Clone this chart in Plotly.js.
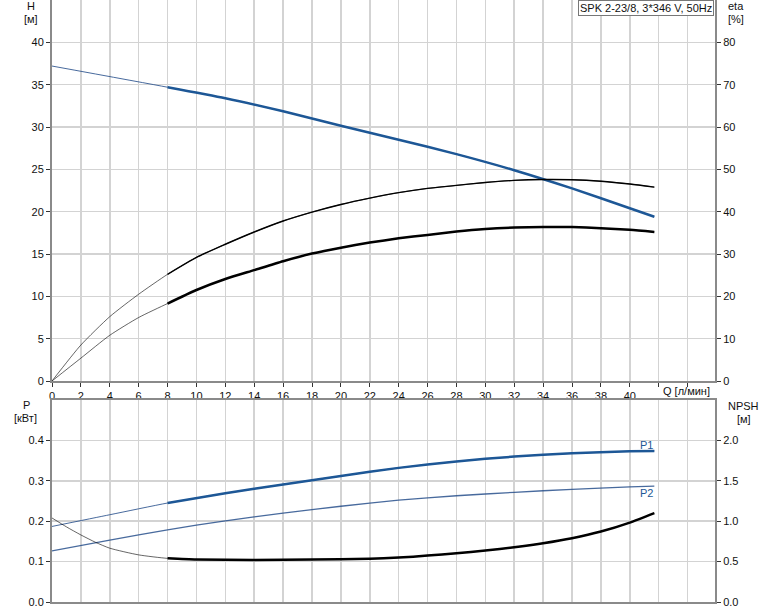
<!DOCTYPE html>
<html><head><meta charset="utf-8">
<script src="https://cdn.plot.ly/plotly-3.0.1.min.js"></script>
<style>html,body{margin:0;padding:0;background:#fff}#chart{width:774px;height:611px}</style>
</head><body><div id="chart"></div>
<script>
// ---- data ----
const qH   = [0, 8, 12, 16, 20, 24, 28, 32, 36, 40, 41.7];
const head = [37.2, 34.7, 33.4, 31.85, 30.15, 28.5, 26.8, 24.9, 22.75, 20.4, 19.4];

const qEta = [0, 2, 4, 6, 8, 10, 12, 14, 16, 18, 20, 22, 24, 26, 28, 30, 32, 34, 36, 38, 40, 41.7];
const eta1 = [0, 8.5, 15.2, 20.5, 25.2, 29.2, 32.3, 35.2, 37.8, 39.9, 41.7, 43.2, 44.5, 45.5, 46.2, 46.9, 47.4, 47.6, 47.55, 47.2, 46.55, 45.8];
const eta2 = [0, 5.4, 10.8, 15.0, 18.3, 21.5, 24.1, 26.2, 28.3, 30.1, 31.5, 32.7, 33.7, 34.5, 35.3, 35.9, 36.25, 36.4, 36.35, 36.1, 35.7, 35.2];

const qP = [0, 4, 8, 12, 16, 20, 24, 28, 32, 36, 40, 41.7];
const p1 = [0.187, 0.216, 0.245, 0.269, 0.291, 0.312, 0.332, 0.348, 0.360, 0.368, 0.373, 0.374];
const p2 = [0.1265, 0.153, 0.1786, 0.201, 0.220, 0.237, 0.252, 0.263, 0.2715, 0.279, 0.285, 0.287];

const qN   = [0, 1, 2, 3, 4, 6, 8, 10, 14, 18, 22, 24, 26, 28, 30, 32, 34, 36, 38, 40, 41.7];
const npsh = [1.04, 0.93, 0.83, 0.74, 0.666, 0.583, 0.54, 0.525, 0.52, 0.525, 0.535, 0.55, 0.574, 0.603, 0.636, 0.678, 0.728, 0.79, 0.872, 0.983, 1.10];

const qTicks = [0,2,4,6,8,10,12,14,16,18,20,22,24,26,28,30,32,34,36,38,40,42,44];
const qTickText = qTicks.map(v => v <= 40 ? String(v) : '');
const hTicks = [0,5,10,15,20,25,30,35,40];
const etaTicks = [0,10,20,30,40,50,60,70,80];
const pTicks = [0,0.1,0.2,0.3,0.4];
const nTicks = [0,0.5,1.0,1.5,2.0];
const modelLabel = 'SPK 2-23/8, 3*346 V, 50Hz';

// ---- helpers ----
const Q0 = 8; // start of the thick (working) range
function from(xs, ys, x0){ const X=[],Y=[]; xs.forEach((x,i)=>{ if(x>=x0){X.push(x);Y.push(ys[i]);} }); return [X,Y]; }

const BLUE = '#1d5796';
const THIN_BLUE = 'rgba(40,80,140,0.85)';
const THIN_BLACK = 'rgba(0,0,0,0.6)';

function line(x, y, color, width, xa, ya){
  return {x, y, type:'scatter', mode:'lines', line:{color, width, shape:'spline', smoothing:0.6},
          xaxis:xa, yaxis:ya, hoverinfo:'skip', showlegend:false};
}

const traces = [];
// top panel
traces.push(line(qH, head, THIN_BLUE, 1, 'x', 'y'));
let t = from(qH, head, Q0); traces.push(line(t[0], t[1], BLUE, 2.5, 'x', 'y'));
traces.push(line(qEta, eta1, THIN_BLACK, 1, 'x', 'y2'));
t = from(qEta, eta1, Q0); traces.push(line(t[0], t[1], '#000', 1.4, 'x', 'y2'));
traces.push(line(qEta, eta2, THIN_BLACK, 1, 'x', 'y2'));
t = from(qEta, eta2, Q0); traces.push(line(t[0], t[1], '#000', 2.5, 'x', 'y2'));
// bottom panel
traces.push(line(qP, p1, THIN_BLUE, 1, 'x2', 'y3'));
t = from(qP, p1, Q0); traces.push(line(t[0], t[1], BLUE, 2.5, 'x2', 'y3'));
traces.push(line(qP, p2, THIN_BLUE, 1.3, 'x2', 'y3'));
traces.push(line(qN, npsh, THIN_BLACK, 1, 'x2', 'y4'));
t = from(qN, npsh, Q0); traces.push(line(t[0], t[1], '#000', 2.5, 'x2', 'y4'));

// ---- layout ----
const W = 774, H = 611, L = 52, R = 59, T = 0, B = 9;
const pw = W - L - R, ph = H - T - B;
const px = x => (x - L) / pw;
const py = y => (ph + T - y) / ph;

const FONT = 'Liberation Sans, Arial, sans-serif';
const GRID = '#d3d3d3';
const AXL = '#8a8a8a';

const common = {showgrid:true, gridcolor:GRID, gridwidth:1.5, showline:true, linecolor:AXL, linewidth:2,
  ticks:'outside', ticklen:4, tickcolor:'#333', tickwidth:1, zeroline:false, tickfont:{size:11, color:'#111', family:FONT}};

function ann(text, x, y, xanchor, extra){
  return Object.assign({text, xref:'paper', yref:'paper', x:px(x), y:py(y), xanchor:xanchor||'center', yanchor:'middle',
    showarrow:false, font:{size:11, color:'#111', family:FONT}}, extra||{});
}

const layout = {
  width:W, height:H, margin:{l:L, r:R, t:T, b:B}, paper_bgcolor:'#fff', plot_bgcolor:'#fff',
  font:{family:FONT, size:11, color:'#111'}, showlegend:false,
  xaxis: Object.assign({}, common, {domain:[0,1], anchor:'y', range:[0,45.9], tickmode:'array', tickvals:qTicks, ticktext:qTickText}),
  yaxis: Object.assign({}, common, {domain:[py(381),1], anchor:'x', range:[0,45], tickmode:'array', tickvals:hTicks}),
  yaxis2: Object.assign({}, common, {overlaying:'y', side:'right', anchor:'x', range:[0,90], tickmode:'array', tickvals:etaTicks, showgrid:false}),
  xaxis2: Object.assign({}, common, {domain:[0,1], anchor:'y3', range:[0,45.9], tickmode:'array', tickvals:qTicks, showticklabels:false, ticks:'', mirror:true}),
  yaxis3: Object.assign({}, common, {domain:[0,py(400)], anchor:'x2', range:[0,0.5], tickmode:'array', tickvals:pTicks, tickformat:'.1f'}),
  yaxis4: Object.assign({}, common, {overlaying:'y3', side:'right', anchor:'x2', range:[0,2.5], tickmode:'array', tickvals:nTicks, tickformat:'.1f', showgrid:false}),
  annotations: [
    ann('H', 31, 6), ann('[м]', 31, 19),
    ann('eta', 736, 6), ann('[%]', 736, 19),
    ann('P', 26, 405), ann('[кВт]', 25, 418),
    ann('NPSH', 743, 406), ann('[м]', 744, 419),
    ann('Q [л/мин]', 712, 391, 'right'),
    ann('P1', 655, 445, 'right', {font:{size:11, color:BLUE, family:FONT}}),
    ann('P2', 655, 493, 'right', {font:{size:11, color:BLUE, family:FONT}}),
    Object.assign(ann(modelLabel, 714, 0, 'right'), {yanchor:'top', bgcolor:'#fff', bordercolor:'#777', borderwidth:1, borderpad:1})
  ]
};

Plotly.newPlot('chart', traces, layout, {staticPlot:true, displayModeBar:false});
</script>
</body></html>
